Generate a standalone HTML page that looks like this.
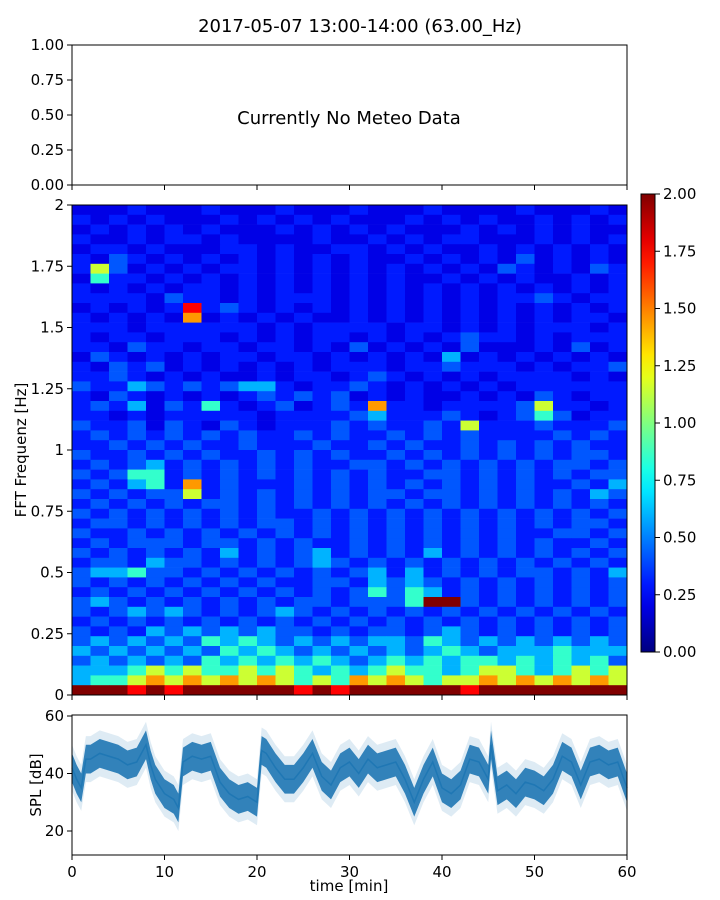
<!DOCTYPE html>
<html><head><meta charset="utf-8"><style>
html,body{margin:0;padding:0;background:#fff;}
svg{display:block;font-family:"DejaVu Sans","Liberation Sans",sans-serif;}
</style></head><body>
<svg id="chart" width="720" height="900" viewBox="0 0 720 900" xmlns="http://www.w3.org/2000/svg">
<text x="360" y="32" font-size="18" text-anchor="middle">2017-05-07 13:00-14:00 (63.00_Hz)</text>
<g id="meteo"></g>
<g id="spec"></g>
<g id="cbar"></g>
<g id="spl"></g>
</svg>
<script>
// ---- data ----
const specRows = [
"111211121112111211121111211121","212121112121212111212121121212","121212121112121212111212121211",
"211212212111121121212211121212","122121112212112212121121212121","213212121212121211212121312121",
"263121212212121212121213212132","152212121212121212112121211212","212121221212121212121212121212",
"222213221212221212121212232122","121212823212121212121212121212","212121712121211212121212121221",
"222122222212122221221212122212","212212221212122121212322121222","221322122122121312121311121312",
"132121212212212121214121212121","213231212121212221223222121223","223212121121221232121212222121",
"322432323442122321212121222222","213212121232323121211212132122","232413252123123272212222362212",
"221212222212222342223212353122","322313213212223232232622232223","232323232322323223232322223232",
"223232322322232232322323232322","322323232232323223232323232332","232342323232322332323232323323",
"323552323232323232233232323233","232452723222323232323232322324","323233623232323233233232323243",
"232323233232323232323232323232","323232323232232323232323232323","233232323233232323232323232332",
"322323232323232323232323223323","232333233232322323232323232232","323232324232342323242323232323",
"233243323232343232323232323232","344533232323232342423232332324","323232323232233243432323232323",
"232323232323232353542323232323","343232323232332333599323232323","323434323234323232323232323232",
"232323232323232323232323232323","323243434343323233234323232323","343434354543434344354343434343",
"434343435454343434345434445444","343434354545454345454554545453","444565655656545456554566545656",
"455676767676565767656676767676","999898999999898999999899999999"];
const digitValues = [0.08,0.2,0.3,0.42,0.6,0.85,1.15,1.45,1.75,2.0];
const splTimes = [0,0.5,1,1.5,2,3,4,5,6,7,8,8.5,9,10,11,11.5,12,13,14,15,16,17,18,19,20,20.5,21,22,23,24,25,26,27,28,29,30,31,32,33,34,35,36,37,38,39,40,41,42,43,44,45,45.3,46,47,48,49,50,51,52,53,54,55,56,57,58,59,60];
const splValues = [42,38,35,45,45,47,46,45,43,44,50,43,38,33,31,28,44,46,45,46,37,33,31,32,30,48,47,42,38,38,42,47,39,36,42,44,40,45,42,43,44,38,30,38,44,35,33,36,45,44,38,50,34,36,33,37,36,34,38,46,44,36,44,45,43,44,35];
const xTicks = [0,10,20,30,40,50,60];
const meteoTicks = ["0.00","0.25","0.50","0.75","1.00"];
const specTicks = ["0","0.25","0.5","0.75","1","1.25","1.5","1.75","2"];
const cbarTicks = ["0.00","0.25","0.50","0.75","1.00","1.25","1.50","1.75","2.00"];
const splTicks = [20,40,60];

const NS="http://www.w3.org/2000/svg";
function mk(parent,tag,attrs){const e=document.createElementNS(NS,tag);for(const k in attrs)e.setAttribute(k,attrs[k]);parent.appendChild(e);return e;}
function jet(f){f=Math.max(0,Math.min(1,f));const c=v=>Math.round(255*Math.max(0,Math.min(1,v)));
return `rgb(${c(1.5-Math.abs(4*f-3))},${c(1.5-Math.abs(4*f-2))},${c(1.5-Math.abs(4*f-1))})`;}
const X0=72,X1=627;
const xs=t=>X0+(t/60)*(X1-X0);

function xTickMarks(g,yb,labels){
  xTicks.forEach(t=>{
    const l=mk(g,'line',{x1:xs(t),x2:xs(t),y1:yb,y2:yb+5,stroke:'#000','stroke-width':1});
    
    if(labels){const tx=mk(g,'text',{x:xs(t),y:yb+22,'font-size':15,'text-anchor':'middle'});tx.textContent=t;
      }
  });
}
function yTick(g,y,label){
  const l=mk(g,'line',{x1:X0-5,x2:X0,y1:y,y2:y,stroke:'#000'});
  
  const t=mk(g,'text',{x:X0-8,y:y+5,'font-size':15,'text-anchor':'end'});t.textContent=label;
  
}

// meteo panel
(function(){
  const g=document.getElementById('meteo');const T=45,B=185;
  meteoTicks.forEach((lab,i)=>yTick(g,B-(B-T)*i/(meteoTicks.length-1),lab));
  xTickMarks(g,B,false);
  const t=mk(g,'text',{x:349,y:124,'font-size':18,'text-anchor':'middle'});t.textContent='Currently No Meteo Data';
  
  const r=mk(g,'rect',{x:X0,y:T,width:X1-X0,height:B-T,fill:'none',stroke:'#000','stroke-width':1});
  
})();

// spectrogram
(function(){
  const g=document.getElementById('spec');const T=205,B=695;
  const nr=specRows.length,nc=specRows[0].length;
  const ys=v=>B-(v/2)*(B-T);
  for(let r=0;r<nr;r++){for(let c=0;c<nc;c++){
    const v=digitValues[+specRows[r][c]];
    const f0=2-(r/nr)*2,f1=2-((r+1)/nr)*2;
    const x=xs(c*60/nc),x2=xs((c+1)*60/nc);
    const rc=mk(g,'rect',{x:x,y:ys(f0),width:x2-x+0.3,height:ys(f1)-ys(f0)+0.3,fill:jet(v/2)});
    
  }}
  specTicks.forEach((lab,i)=>yTick(g,B-(B-T)*i/(specTicks.length-1),lab));
  xTickMarks(g,B,false);
  const t=mk(g,'text',{x:26,y:450,'font-size':15,'text-anchor':'middle',transform:'rotate(-90 26 450)'});t.textContent='FFT Frequenz [Hz]';
  
  const fr=mk(g,'rect',{x:X0,y:T,width:X1-X0,height:B-T,fill:'none',stroke:'#000'});
  
})();

// colorbar
(function(){
  const g=document.getElementById('cbar');const T=194,B=652,L=641,W=14;
  const defs=mk(g,'defs',{});const lg=mk(defs,'linearGradient',{id:'jetg',x1:0,y1:1,x2:0,y2:0});
  for(let i=0;i<=20;i++)mk(lg,'stop',{offset:i/20,'stop-color':jet(i/20)});
  const r=mk(g,'rect',{x:L,y:T,width:W,height:B-T,fill:'url(#jetg)',stroke:'#000'});
  
  cbarTicks.forEach((lab,i)=>{const y=B-(B-T)*i/(cbarTicks.length-1);
    const l=mk(g,'line',{x1:L+W,x2:L+W+5,y1:y,y2:y,stroke:'#000'});
    
    const t=mk(g,'text',{x:L+W+8,y:y+5,'font-size':15});t.textContent=lab;
    });
})();

// SPL
(function(){
  const g=document.getElementById('spl');const T=715,B=855;
  const ys=v=>831-(v-20)*2.875;
  const up=(w)=>splTimes.map((t,i)=>`${xs(t)},${ys(splValues[i]+w)}`).join(' ');
  const dn=(w)=>splTimes.map((t,i)=>`${xs(t)},${ys(splValues[i]-w)}`).reverse().join(' ');
  const light=mk(g,'polygon',{points:up(8)+' '+dn(8),fill:'#1f77b4','fill-opacity':0.15});
  
  const dark=mk(g,'polygon',{points:up(5)+' '+dn(5),fill:'#1f77b4','fill-opacity':0.9});
  
  const ln=mk(g,'polyline',{points:up(0),fill:'none',stroke:'#1f77b4','stroke-width':1.5});
  
  splTicks.forEach(v=>yTick(g,ys(v),v));
  xTickMarks(g,B,true);
  const xt=mk(g,'text',{x:349,y:891,'font-size':15,'text-anchor':'middle'});xt.textContent='time [min]';
  
  const yt=mk(g,'text',{x:41,y:785,'font-size':15,'text-anchor':'middle',transform:'rotate(-90 41 785)'});yt.textContent='SPL [dB]';
  
  const fr=mk(g,'rect',{x:X0,y:T,width:X1-X0,height:B-T,fill:'none',stroke:'#000'});
  
})();
</script>
</body></html>
